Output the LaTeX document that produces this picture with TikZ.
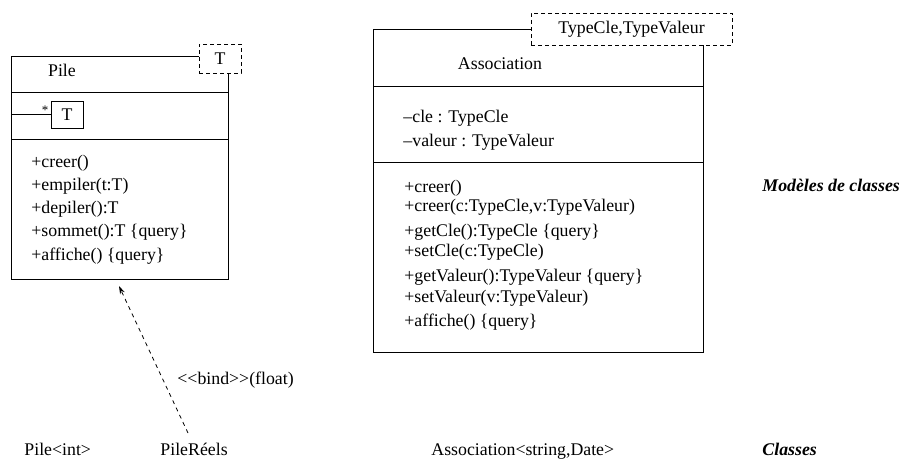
\documentclass[tikz,border=0pt]{standalone}
\usepackage{fontspec}
\setmainfont{Liberation Serif}
\usetikzlibrary{arrows.meta}
\begin{document}
\begin{tikzpicture}[x=1pt,y=-1pt,line width=0.9pt,
  every node/.style={font=\fontsize{17.8}{20}\selectfont,inner sep=0pt},
  txt/.style={anchor=west,text height=13pt,text depth=4pt},
  ctxt/.style={anchor=center,text height=13pt,text depth=4pt},
  classbox/.style={draw=none,rectangle,anchor=north west},
  parambox/.style={draw,dashed,dash pattern=on 4pt off 3pt,minimum width=#1,fill=white},
  label/.style={txt,font=\fontsize{17.8}{20}\selectfont\bfseries\itshape},
  bindarrow/.style={dashed,dash pattern=on 4pt off 4pt,line width=0.8pt,-{Stealth[length=8pt,width=5pt]}}
]
\useasboundingbox (0,0) rectangle (900,460);

% ---------- Pile ----------
\node[classbox,minimum width=217pt,minimum height=223pt] (pile) at (11,56) {};
\node[parambox=42pt,minimum height=29pt] (pileparam) at (220,58.5) {T};
\draw (pileparam.west |- pile.north) -- (pile.north west) -- (pile.south west)
      -- (pile.south east) -- (pile.east |- pileparam.south);
\draw (11,92) -- (228,92);
\draw (11,139) -- (228,139);
\node[ctxt] (pilename) at (62,72) {Pile};
\node[draw,line width=0.8pt,minimum width=32pt,minimum height=27pt] (tbox) at (67,114.5) {T};
\draw (pile.west |- tbox.west) -- (tbox.west);
\node[font=\fontsize{13}{15}\selectfont] (star) at (45,110) {*};
\node[txt] (p1) at (31,163) {+creer()};
\node[txt] (p2) at (31,186) {+empiler(t:T)};
\node[txt] (p3) at (31,209) {+depiler():T};
\node[txt] (p4) at (31,232) {+sommet():T \{query\}};
\node[txt] (p5) at (31,256) {+affiche() \{query\}};

% ---------- Association ----------
\node[classbox,minimum width=330pt,minimum height=323pt] (assoc) at (373,29) {};
\node[parambox=201pt,minimum height=32pt] (assocparam) at (631.5,29) {TypeCle,TypeValeur};
\draw (assocparam.west |- assoc.north) -- (assoc.north west) -- (assoc.south west)
      -- (assoc.south east) -- (assoc.east |- assocparam.south);
\draw (373,86) -- (703,86);
\draw (373,162) -- (703,162);
\node[ctxt] (assocname) at (500,65) {Association};
\node[txt] (a1) at (403,118) {\textendash cle : TypeCle};
\node[txt] (a2) at (403,142) {\textendash valeur : TypeValeur};
\node[txt] (o1) at (404,188) {+creer()};
\node[txt] (o2) at (404,207) {+creer(c:TypeCle,v:TypeValeur)};
\node[txt] (o3) at (404,232) {+getCle():TypeCle \{query\}};
\node[txt] (o4) at (404,252) {+setCle(c:TypeCle)};
\node[txt] (o5) at (404,277) {+getValeur():TypeValeur \{query\}};
\node[txt] (o6) at (404,298) {+setValeur(v:TypeValeur)};
\node[txt] (o7) at (404,322) {+affiche() \{query\}};

% ---------- labels ----------
\node[label] (modeles) at (762,187) {Modèles de classes};
\node[label] (classes) at (762,450.5) {Classes};

% ---------- classes ----------
\node[txt] (pileint) at (24,450.5) {Pile<int>};
\node[txt] (pilereels) at (160,450.5) {PileRéels};
\node[txt] (assocsd) at (431,450.5) {Association<string,Date>};

% ---------- bind ----------
\coordinate (bindstart) at (188,433);
\coordinate (bindend) at (119,286);
\draw[bindarrow] (bindstart) -- (bindend);
\node[txt] (bindlbl) at (177,380) {<{}<bind>{}>(float)};
\end{tikzpicture}
\end{document}
